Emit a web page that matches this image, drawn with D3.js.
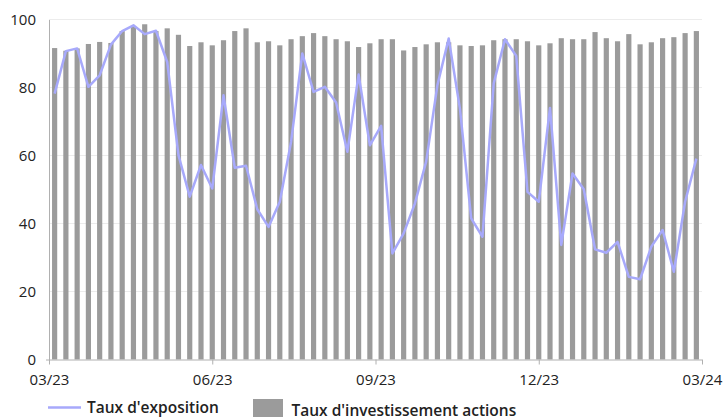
<!DOCTYPE html>
<html lang="fr">
<head>
    <meta charset="UTF-8">
    <title>Taux d'exposition</title>
</head>
<body style="margin:0">
<style>
    text { font-family: "Open Sans", sans-serif; fill: #222; }
    .bar { fill: #9b9b9b; }
    .grid line { stroke: #ececec; }
</style>
<svg width="726" height="417"></svg>
<script src="https://cdn.jsdelivr.net/npm/d3@7"></script>
<script>

    // weekly points, 03/23 -> 03/24
    var weeks = d3.range(1, 59);
    var xLabels = ["03/23", "06/23", "09/23", "12/23", "03/24"];
    var yTicks = [0, 20, 40, 60, 80, 100];

    var invest = [91.6, 90.8, 91.5, 92.8, 93.4, 93.1, 96.6, 98.0, 98.6, 96.6,
                  97.4, 95.5, 92.2, 93.3, 92.4, 93.9, 96.6, 97.4, 93.3, 93.6,
                  92.4, 94.2, 95.1, 96.0, 95.1, 94.2, 93.6, 91.9, 93.0, 94.2,
                  94.2, 90.9, 91.9, 92.7, 93.3, 93.3, 92.4, 92.2, 92.4, 93.9,
                  94.2, 94.2, 93.6, 92.4, 93.0, 94.5, 94.2, 94.2, 96.3, 94.5,
                  93.6, 95.7, 92.7, 93.3, 94.5, 94.8, 96.0, 96.6];

    var expo = [78.2, 90.7, 91.5, 80.2, 83.6, 92.6, 96.6, 98.3, 95.7, 96.7,
                87.5, 60.1, 47.9, 57.2, 50.3, 77.7, 56.4, 57.0, 44.2, 39.0,
                46.4, 64.0, 90.0, 78.7, 80.2, 75.6, 61.1, 83.8, 63.0, 68.7,
                31.2, 37.1, 45.9, 58.2, 80.7, 94.4, 73.8, 41.5, 36.1, 81.2,
                94.2, 89.3, 49.3, 46.4, 74.0, 33.7, 54.7, 50.1, 32.4, 31.4,
                34.6, 24.3, 23.6, 33.2, 38.1, 25.8, 46.4, 59.1];

    var svg = d3.select("svg"),
        plot = {left: 49, right: 702, top: 19.5, bottom: 359.5};

    var xScale = d3.scaleBand().domain(weeks).range([plot.left, plot.right])
            .paddingInner(0.54).paddingOuter(0.27),
        xTick = d3.scalePoint().domain(xLabels).range([plot.left, plot.right]),
        yScale = d3.scaleLinear().domain([0, 100]).range([plot.bottom, plot.top]);

    // gridlines
    svg.append("g")
        .attr("class", "grid")
        .selectAll("line")
        .data(yTicks.slice(1))
        .enter()
        .append("line")
        .attr("x1", plot.left)
        .attr("x2", plot.right)
        .attr("y1", function(d) { return yScale(d); })
        .attr("y2", function(d) { return yScale(d); });

    // bars
    svg.selectAll(".bar")
        .data(invest)
        .enter()
        .append("rect")
        .attr("class", "bar")
        .attr("x", function(d, i) { return xScale(weeks[i]); })
        .attr("y", function(d) { return yScale(d); })
        .attr("width", xScale.bandwidth())
        .attr("height", function(d) { return plot.bottom - yScale(d); });

    // exposure line
    var line = d3.line()
        .x(function(d, i) { return xScale(weeks[i]) + xScale.bandwidth() / 2; })
        .y(function(d) { return yScale(d); });

    svg.append("path")
        .datum(expo)
        .attr("d", line)
        .attr("fill", "none")
        .attr("stroke", "#a7a9fb")
        .attr("stroke-width", 2.5)
        .attr("stroke-linejoin", "round");

    // y axis
    var yAxis = svg.append("g")
        .attr("transform", "translate(" + plot.left + ",0)")
        .call(d3.axisLeft(yScale).tickValues(yTicks).tickSize(0).tickPadding(13));
    yAxis.select(".domain").attr("stroke", "#b0b0b0");
    yAxis.selectAll("text").style("font-size", "15px");

    // x axis
    var xAxis = svg.append("g")
        .attr("transform", "translate(0," + plot.bottom + ")")
        .call(d3.axisBottom(xTick).tickSizeInner(5).tickSizeOuter(0).tickPadding(10));
    xAxis.select(".domain").attr("stroke", "#b0b0b0")
        .attr("d", "M" + (plot.left - 3) + ",0.5H" + plot.right);
    xAxis.selectAll(".tick line").attr("stroke", "#b0b0b0");
    xAxis.selectAll("text").style("font-size", "15px");

    // legend
    var legend = svg.append("g");
    legend.append("line")
        .attr("x1", 48).attr("x2", 81)
        .attr("y1", 407.5).attr("y2", 407.5)
        .attr("stroke", "#a7a9fb")
        .attr("stroke-width", 2.5);
    legend.append("text")
        .attr("x", 87).attr("y", 413)
        .style("font-size", "15.5px")
        .style("font-weight", 600)
        .text("Taux d'exposition");
    legend.append("rect")
        .attr("class", "bar")
        .attr("x", 253).attr("y", 399)
        .attr("width", 30).attr("height", 20);
    legend.append("text")
        .attr("x", 291.5).attr("y", 416)
        .style("font-size", "15.5px")
        .style("font-weight", 600)
        .text("Taux d'investissement actions");
</script>
</body>
</html>
